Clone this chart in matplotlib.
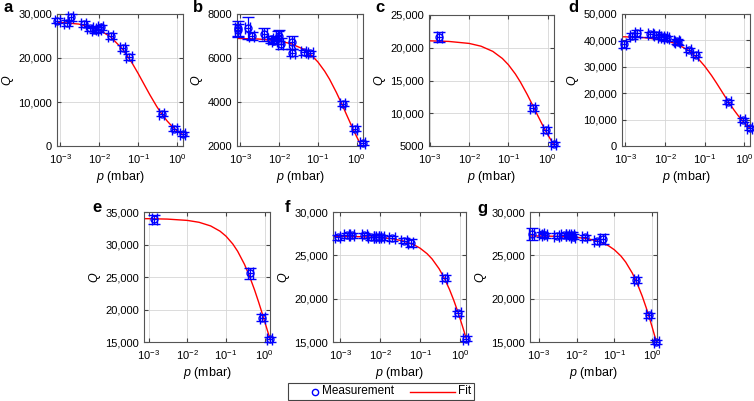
import numpy as np
import matplotlib
matplotlib.use('Agg')
import matplotlib.pyplot as plt
from matplotlib.ticker import FuncFormatter, LogLocator, NullFormatter, FixedLocator
from matplotlib.lines import Line2D
from matplotlib.patches import Rectangle

plt.rcParams['font.family'] = ['Liberation Sans', 'DejaVu Sans']
plt.rcParams['mathtext.fontset'] = 'custom'
plt.rcParams['mathtext.rm'] = 'Liberation Sans'
plt.rcParams['mathtext.it'] = 'Liberation Sans:italic'
plt.rcParams['font.size'] = 8.5

# measured points (pressure in mbar, quality factor, y error)
P_A = [8.5e-4, 1.5e-3, 1.9e-3, 4.0e-3, 5.9e-3, 7.9e-3, 9.6e-3, 1.1e-2, 2.0e-2, 4.0e-2, 5.9e-2, 0.41, 0.85, 1.40]
Q_A = [28470, 28020, 29230, 27700, 26730, 26350, 26500, 26950, 25060, 22320, 20270, 7370, 3950, 2660]
E_A = [600, 700, 800, 600, 600, 600, 600, 600, 700, 700, 700, 600, 500, 500]

P_B = [8.7e-4, 8.7e-4, 1.55e-3, 2.0e-3, 4.2e-3, 6.2e-3, 7.6e-3, 9.6e-3, 1.0e-2, 1.1e-2, 2.1e-2, 2.2e-2, 4.4e-2, 6.4e-2, 0.44, 0.88, 1.42]
Q_B = [7350, 7250, 7380, 7000, 7070, 6850, 6770, 6920, 7000, 6650, 6710, 6240, 6255, 6210, 3930, 2790, 2140]
E_B = [350, 300, 500, 200, 300, 150, 150, 300, 250, 250, 300, 150, 120, 120, 120, 100, 100]

P_C = [1.74e-3, 0.42, 0.88, 1.42]
Q_C = [21640, 10800, 7390, 5250]
E_C = [760, 450, 450, 300]

P_D = [9.0e-4, 1.5e-3, 2.0e-3, 4.3e-3, 6.1e-3, 8.0e-3, 9.6e-3, 1.1e-2, 2.0e-2, 2.1e-2, 4.0e-2, 6.0e-2, 0.40, 0.91, 1.38]
Q_D = [38480, 41650, 42660, 42280, 42150, 41400, 41140, 40760, 39600, 39240, 36330, 34560, 16580, 9750, 6840]
E_D = [1300, 1000, 1200, 1000, 1000, 900, 900, 1000, 900, 900, 900, 900, 700, 700, 600]

P_E = [1.4e-3, 0.43, 0.88, 1.35]
Q_E = [33880, 25570, 18760, 15400]
E_E = [700, 800, 600, 400]

P_F = [8.5e-4, 1.48e-3, 1.9e-3, 4.0e-3, 5.9e-3, 8.0e-3, 9.3e-3, 1.08e-2, 2.0e-2, 4.0e-2, 5.8e-2, 0.42, 0.91, 1.40]
Q_F = [27100, 27290, 27290, 27290, 27060, 27060, 27060, 27060, 26980, 26680, 26440, 22350, 18290, 15390]
E_F = [300, 300, 300, 300, 300, 300, 300, 300, 300, 300, 450, 350, 300, 250]

P_G = [6.5e-4, 1.2e-3, 1.45e-3, 3.0e-3, 4.5e-3, 6.0e-3, 7.4e-3, 8.1e-3, 1.66e-2, 3.4e-2, 4.9e-2, 0.38, 0.81, 1.30]
Q_G = [27450, 27450, 27290, 27250, 27290, 27290, 27370, 27170, 27060, 26600, 26870, 22150, 18090, 15000]
E_G = [700, 300, 300, 300, 300, 300, 300, 300, 300, 300, 600, 300, 300, 250]

# fit curves
FIT_P = [6e-4, 1e-3, 3e-3, 1e-2, 2e-2, 4e-2, 7e-2, 0.1, 0.15, 0.2, 0.3, 0.4, 0.55, 0.7, 0.85, 1.0, 1.2, 1.45]
FIT_A = [28180, 28100, 27710, 26410, 24760, 22010, 18870, 16510, 13660, 11650, 9000, 7340, 5740, 4720, 4000, 3475, 2960, 2490]
FIT_B = [6892, 6887, 6862, 6775, 6654, 6425, 6108, 5823, 5399, 5036, 4434, 3963, 3418, 3005, 2681, 2419, 2142, 1872]
FIT_C = [21073, 21055, 20966, 20660, 20238, 19445, 18365, 17398, 15996, 14802, 12879, 11399, 9723, 8476, 7513, 6746, 5938, 5165]
FIT_D = [41408, 41347, 41044, 40019, 38637, 36146, 32955, 30283, 26678, 23841, 19658, 16724, 13665, 11552, 10005, 8823, 7622, 6515]
FIT_E = [33982, 33970, 33911, 33707, 33419, 32857, 32049, 31280, 30077, 28963, 26965, 25226, 23000, 21135, 19550, 18186, 16638, 15038]
FIT_F = [27191, 27186, 27157, 27056, 26914, 26633, 26224, 25826, 25190, 24584, 23456, 22427, 21043, 19821, 18731, 17756, 16603, 15356]
FIT_G = [27240, 27233, 27199, 27081, 26914, 26585, 26108, 25647, 24914, 24222, 22947, 21800, 20279, 18957, 17796, 16769, 15571, 14295]

XERR_FRAC = 0.15

panels = [
    ('a', P_A, Q_A, E_A, FIT_A, (8.3e-4, 1.42), [0, 10000, 20000, 30000], [0.0756, 0.6359, 0.1671, 0.3292], (3, 8)),
    ('b', P_B, Q_B, E_B, FIT_B, (8.3e-4, 1.45), [2000, 4000, 6000, 8000], [0.3143, 0.6359, 0.1671, 0.3292], (193, 8)),
    ('c', P_C, Q_C, E_C, FIT_C, (9.5e-4, 1.45), [5000, 10000, 15000, 20000, 25000], [0.5690, 0.6359, 0.1658, 0.3267], (375, 8)),
    ('d', P_D, Q_D, E_D, FIT_D, (8.2e-4, 1.40), [0, 10000, 20000, 30000, 40000, 50000], [0.8249, 0.6359, 0.1698, 0.3292], (568, 8)),
    ('e', P_E, Q_E, E_E, FIT_E, (7.5e-4, 1.38), [15000, 20000, 25000, 30000, 35000], [0.1910, 0.1471, 0.1671, 0.3242], (92, 207)),
    ('f', P_F, Q_F, E_F, FIT_F, (6.5e-4, 1.42), [15000, 20000, 25000, 30000], [0.4416, 0.1471, 0.1764, 0.3242], (285, 207)),
    ('g', P_G, Q_G, E_G, FIT_G, (5.8e-4, 1.35), [15000, 20000, 25000, 30000], [0.7029, 0.1471, 0.1684, 0.3242], (477, 208)),
]

W, H = 754, 401
fig = plt.figure(figsize=(W / 100, H / 100), dpi=100)


def qfmt(v, pos):
    if v >= 10000:
        return f'{v:,.0f}'
    return f'{v:.0f}'


def xfmt(v, pos):
    return r'$10^{%d}$' % int(round(np.log10(v)))


for letter, p, q, e, fit, xlim, yticks, rect, lpos in panels:
    ax = fig.add_axes(rect)
    p = np.array(p)
    ax.plot(FIT_P, fit, color='red', lw=1.0, zorder=2)
    ax.errorbar(p, q, yerr=e, xerr=XERR_FRAC * p, fmt='o', mfc='none', mec='blue',
                ms=5, mew=1.0, ecolor='blue', elinewidth=0.9, capsize=4, capthick=0.9,
                zorder=3, clip_on=False)
    ax.set_xscale('log')
    ax.set_xlim(*xlim)
    ax.set_ylim(yticks[0], yticks[-1])
    ax.yaxis.set_major_locator(FixedLocator(yticks))
    ax.yaxis.set_major_formatter(FuncFormatter(qfmt))
    ax.xaxis.set_major_locator(FixedLocator([1e-3, 1e-2, 1e-1, 1e0]))
    ax.xaxis.set_major_formatter(FuncFormatter(xfmt))
    ax.xaxis.set_minor_locator(LogLocator(base=10, subs=np.arange(2, 10)))
    ax.xaxis.set_minor_formatter(NullFormatter())
    ax.grid(True, which='major', color='#d6d6d6', lw=0.6, ls='-')
    ax.grid(True, which='minor', axis='x', color='#b5b5b5', lw=0.5, ls=':')
    ax.set_axisbelow(True)
    ax.tick_params(which='both', direction='in', top=True, right=True, colors='#444444',
                   labelcolor='black', labelsize=8)
    ax.tick_params(axis='y', pad=3.5)
    ax.tick_params(axis='x', pad=4.5)
    ax.tick_params(which='major', length=3)
    ax.tick_params(which='minor', length=1.5)
    for s in ax.spines.values():
        s.set_color('#555555')
        s.set_linewidth(0.8)
    ax.set_xlabel(r'$p$ (mbar)', fontsize=9, labelpad=2)
    ax.set_ylabel(r'$Q$', fontsize=9, labelpad=2)
    fig.text(lpos[0] / W, 1 - lpos[1] / H, letter, fontsize=12, fontweight='bold',
             ha='left', va='center')


# legend box drawn in figure pixels
def fx(x):
    return x / W


def fy(y):
    return 1 - y / H


fig.patches.append(Rectangle((fx(288), fy(400)), fx(474) - fx(288), fy(382.5) - fy(400),
                             transform=fig.transFigure, fill=False, edgecolor='#444444', lw=0.8))
fig.lines.append(Line2D([fx(315)], [fy(391.5)], transform=fig.transFigure, ls='none',
                        marker='o', mfc='none', mec='blue', ms=4.5, mew=1.0))
fig.text(fx(322), fy(391.5), 'Measurement', fontsize=8.5, ha='left', va='center')
fig.lines.append(Line2D([fx(410), fx(455)], [fy(391.5), fy(391.5)], transform=fig.transFigure,
                        color='red', lw=1.0))
fig.text(fx(458), fy(391.5), 'Fit', fontsize=8.5, ha='left', va='center')

fig.savefig('out.png', dpi=100)
